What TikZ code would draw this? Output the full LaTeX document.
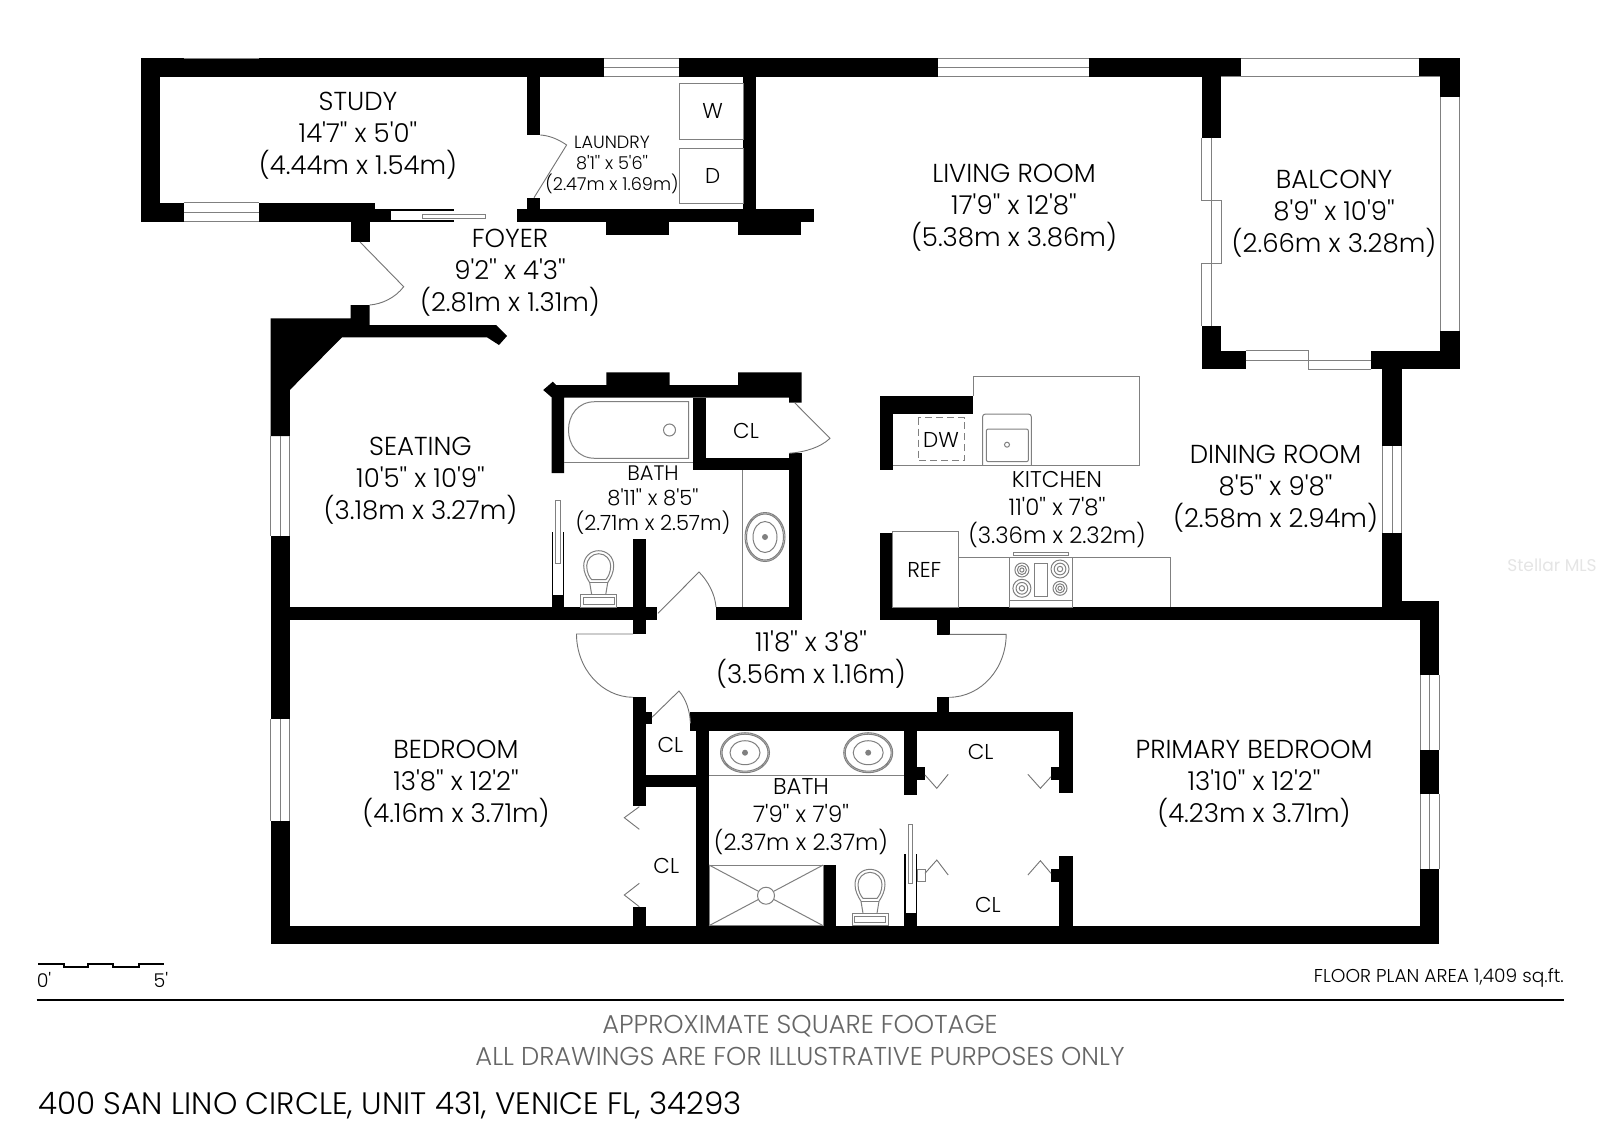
\documentclass[tikz,border=0pt]{standalone}
\usepackage{fontspec}
\newfontfamily\planfont{Poppins Light}
\newfontfamily\markfont{Poppins}
\usepackage{tikz}

\tikzset{
    wall/.style={fill=black},
    fixture/.style={draw=black!50, line width=1pt, fill=white},
    thinline/.style={draw=black!50, line width=1pt},
    doorline/.style={draw=black!55, line width=0.9pt},
    bigroom/.style={align=center, yshift=-3pt, font=\planfont\fontsize{26}{32}\selectfont},
    midroom/.style={align=center, yshift=-2pt, font=\planfont\fontsize{22.8}{28}\selectfont},
    smallroom/.style={align=center, yshift=-2pt, font=\planfont\fontsize{17.7}{21}\selectfont},
    tag/.style={font=\planfont\fontsize{21.5}{24}\selectfont},
}

\begin{document}
\begin{tikzpicture}[x=1pt,y=-1pt]
    \useasboundingbox (0,0) rectangle (1600,1130);
    \fill[white] (0,0) rectangle (1600,1130);

    % outer top wall and study
    \fill[wall] (141,58.3) rectangle (604,76.7);
    \fill[wall] (679,58.3) rectangle (938,76.7);
    \fill[wall] (1088.8,58.3) rectangle (1240.6,76.7);
    \fill[wall] (141,58.3) rectangle (160.4,221.7);
    \fill[wall] (141,202.7) rectangle (183.6,221.7);
    \fill[wall] (259,202.7) rectangle (375,221.7);
    \fill[wall] (375,209.3) rectangle (391,222);
    \fill[wall] (350.5,215) rectangle (369.7,242);
    \fill[wall] (527.3,76.7) rectangle (540.3,135);
    \fill[wall] (527.3,197.7) rectangle (540.3,212);

    % laundry walls
    \fill[wall] (516.6,209.3) rectangle (813.9,222.3);
    \fill[wall] (606.3,222) rectangle (669.3,235);
    \fill[wall] (738,222) rectangle (801,235);
    \fill[wall] (743.4,76.7) rectangle (755.9,210);

    % foyer and seating walls
    \fill[wall] (270.5,318.3) -- (350.5,318.3) -- (350.5,305) -- (369.7,305) -- (369.7,325)
        -- (496,325) -- (507,336) -- (499,345) -- (487,337.3) -- (342,337.3)
        -- (289.8,390) -- (289.8,436) -- (270.5,436) -- cycle;
    \fill[wall] (270.5,536) rectangle (289.8,719);
    \fill[wall] (270.5,821) rectangle (289.8,944.3);
    \fill[wall] (290,607) rectangle (657,620);
    \fill[wall] (633,539.3) rectangle (646,634);

    % inner bath walls
    \fill[wall] (552.8,381.7) -- (543.2,390) -- (551.6,397.3) -- (551.6,473) -- (564.2,473)
        -- (564.2,397.7) -- (789,397.7) -- (789,402.7) -- (801.5,402.7) -- (801.5,372.3)
        -- (738,372.3) -- (738,385) -- (669.5,385) -- (669.5,372.3) -- (606.3,372.3)
        -- (606.3,385) -- (556,385) -- cycle;
    \fill[wall] (551.6,595) rectangle (564.2,607);
    \fill[wall] (551.6,532) rectangle (553.2,595);
    \fill[wall] (562.6,532) rectangle (564.2,595);
    \fill[wall] (692.5,397.7) rectangle (705.8,470);
    \fill[wall] (692.5,458.3) rectangle (789,470);
    \fill[wall] (789,453) rectangle (801.5,620);
    \fill[wall] (716.2,607) rectangle (801.5,620);

    % kitchen and dining walls
    \fill[wall] (880,395.7) rectangle (973,414);
    \fill[wall] (880,395.7) rectangle (892.5,470);
    \fill[wall] (880,533.3) rectangle (892.5,620);
    \fill[wall] (880,607) rectangle (1420,620);
    \fill[wall] (936.5,620) rectangle (949.5,635);
    \fill[wall] (1382.4,369) rectangle (1401.5,446);
    \fill[wall] (1382.4,532.7) rectangle (1401.5,607);
    \fill[wall] (1382.4,600.7) rectangle (1439,620);

    % balcony corners
    \fill[wall] (1201.8,76) rectangle (1221,137.7);
    \fill[wall] (1419.4,58.3) rectangle (1459.6,76.7);
    \fill[wall] (1440,76.7) rectangle (1459.6,96.7);
    \fill[wall] (1201.8,326) rectangle (1221,369.3);
    \fill[wall] (1201.8,350.7) rectangle (1245.5,369.3);
    \fill[wall] (1440,330.7) rectangle (1459.6,369.3);
    \fill[wall] (1371.2,350.7) rectangle (1459.6,369.3);

    % primary bedroom and bottom walls
    \fill[wall] (1420,607) rectangle (1439,675);
    \fill[wall] (1420,750) rectangle (1439,794);
    \fill[wall] (1420,869) rectangle (1439,944.3);
    \fill[wall] (270.5,925.7) rectangle (1439,944.3);
    \fill[wall] (936.8,697.3) rectangle (949.3,712);
    \fill[wall] (690.4,711.7) rectangle (1072.5,731);
    \fill[wall] (1058.9,711.7) rectangle (1072.5,793.3);
    \fill[wall] (1051,767.3) rectangle (1059,780);
    \fill[wall] (1058.9,856) rectangle (1072.5,926);
    \fill[wall] (1051,869.3) rectangle (1059,881.7);

    % closets and second bath walls
    \fill[wall] (633.2,697.3) rectangle (646.4,806);
    \fill[wall] (646,711.7) rectangle (652,724);
    \fill[wall] (646,775) rectangle (697,787.3);
    \fill[wall] (633.2,906.7) rectangle (646.4,926);
    \fill[wall] (696.4,726) rectangle (709,926);
    \fill[wall] (823.2,865) rectangle (836,926);
    \fill[wall] (903.9,730) rectangle (917.1,795);
    \fill[wall] (917,767.3) rectangle (925,780);
    \fill[wall] (903.9,912.7) rectangle (917.1,926);
    \fill[wall] (903.9,854) rectangle (905.5,913);
    \fill[wall] (915.5,854) rectangle (917.1,913);

    % windows
    \foreach \xa/\xb in {183.6/259, 604/679, 938/1088.8} {
        \draw[thinline] (\xa,58.3) -- (\xb,58.3);
    }
    \draw[thinline] (604,67.7) -- (679,67.7) (604,76.7) -- (679,76.7);
    \draw[thinline] (938,67.7) -- (1088.8,67.7) (938,76.7) -- (1088.8,76.7);
    \draw[thinline] (183.6,202.7) -- (259,202.7) (183.6,212) -- (259,212) (183.6,221.7) -- (259,221.7);
    \draw[thinline] (270.5,436) -- (270.5,536) (280,436) -- (280,536) (289.8,436) -- (289.8,536);
    \draw[thinline] (270.5,719) -- (270.5,821) (280,719) -- (280,821) (289.8,719) -- (289.8,821);
    \draw[thinline] (1382.4,446) -- (1382.4,532.7) (1392,446) -- (1392,532.7) (1401.5,446) -- (1401.5,532.7);
    \foreach \ya/\yb in {675/750, 794/869} {
        \draw[thinline] (1420,\ya) -- (1420,\yb) (1429.5,\ya) -- (1429.5,\yb) (1439,\ya) -- (1439,\yb);
    }
    % balcony openings
    \draw[thinline] (1240.6,58.3) -- (1419.4,58.3) (1221,76.7) -- (1440,76.7);
    \draw[thinline] (1440,96.7) -- (1440,330.7) (1459.6,96.7) -- (1459.6,330.7);
    \draw[thinline] (1211,137.7) -- (1211,326);
    \draw[thinline] (1201.8,137.7) -- (1201.8,200.7) -- (1221,200.7) -- (1221,263.3) -- (1201.8,263.3) -- (1201.8,326);
    \draw[thinline] (1245.5,350.7) -- (1308,350.7) -- (1308,369.3) -- (1371.2,369.3);
    \draw[thinline] (1245.5,360) -- (1371.2,360);

    % sliding doors
    \fill[wall] (391,209.3) rectangle (453.7,211);
    \fill[wall] (391,220.3) rectangle (453.7,222);
    \draw[fixture] (422.4,214) rectangle (485,218);
    \draw[fixture] (555.4,500) rectangle (560.4,563);
    \draw[fixture] (908.2,824) rectangle (912.9,883.3);

    % swing doors
    \draw[doorline] (360,242) -- (403.7,286.7) .. controls (395,298) and (382,304) .. (369.7,305);
    \draw[doorline] (534,197.7) -- (566.6,145) .. controls (558,139) and (549,135.5) .. (540.3,135);
    \draw[doorline] (794.6,402.7) -- (830,438.3) .. controls (821,447) and (806,452) .. (789,453.3);
    \draw[doorline] (658,613.3) -- (699,572) .. controls (708,581) and (715,594) .. (716,607);
    \draw[doorline] (652,717.3) -- (679,691) .. controls (686,699) and (690,711) .. (690.4,723.3);
    \draw[doorline] (633,634) -- (576.5,634) .. controls (576.5,669) and (602,697) .. (633,697.3);
    \draw[doorline] (949.5,634.3) -- (1006.2,634.3) .. controls (1006,669) and (981,697) .. (949.3,697.3);

    % closet door leaves
    \draw[doorline] (639.3,806.7) -- (624.3,817.7) -- (639.3,829.3);
    \draw[doorline] (639.3,883.3) -- (624.3,895) -- (639.3,906.7);
    \draw[doorline] (925,775) -- (936.8,788.3) -- (948.2,774.3);
    \draw[doorline] (1027.9,774.3) -- (1040.4,788.3) -- (1051,776.7);
    \draw[doorline] (925,873.3) -- (936.8,860) -- (948.2,875);
    \draw[doorline] (1027.9,875) -- (1040.4,860.7) -- (1051,873.3);
    \draw[thinline] (917.1,869.3) rectangle (925,881.7);

    % laundry fixtures
    \draw[thinline] (679,83.3) rectangle (743.4,139);
    \draw[thinline] (679,148.3) rectangle (743.4,203.3);

    % first bath fixtures
    \draw[thinline] (564.2,462.3) -- (692.5,462.3);
    \draw[thinline] (688.6,401.7) -- (595,401.7) .. controls (578,401.7) and (568.5,415) .. (568.5,430)
        .. controls (568.5,445) and (578,458.3) .. (595,458.3) -- (688.6,458.3) -- cycle;
    \draw[thinline] (669.5,430) circle (6);
    \draw[thinline] (742,470) -- (742,607);
    \draw[thinline] (765,537) ellipse (20 and 24.5) (765,537) ellipse (18.5 and 23) (765,537) ellipse (12 and 15.5);
    \fill[black!50] (765,537) circle (3);

    % second bath fixtures
    \draw[thinline] (709,775) -- (903.9,775);
    \foreach \cx in {745, 868.2} {
        \draw[thinline] (\cx,752.7) ellipse (24.5 and 20) (\cx,752.7) ellipse (23 and 18.5) (\cx,752.7) ellipse (15 and 12);
        \fill[black!50] (\cx,752.7) circle (3);
    }
    \draw[thinline] (709,865) rectangle (823.2,925.7);
    \draw[thinline] (709,865) -- (823.2,925.7) (709,925.7) -- (823.2,865);
    \draw[fixture] (766,895.7) circle (8.5);

    % toilets
    \foreach \cx/\ty in {598.7/550.7, 870/869.3} {
        \begin{scope}[shift={(\cx,\ty)}]
            \draw[thinline] (-7,44) -- (-9,32) .. controls (-12,27) and (-15,22) .. (-15,15)
                .. controls (-15,6) and (-8,0) .. (0,0) .. controls (8,0) and (15,6) .. (15,15)
                .. controls (15,22) and (12,27) .. (9,32) -- (7,44);
            \draw[thinline] (-9,32) -- (9,32);
            \draw[thinline] (0,3) .. controls (7,3) and (12,9) .. (12,15) .. controls (12,22) and (9,27) .. (7,29)
                -- (-7,29) .. controls (-9,27) and (-12,22) .. (-12,15) .. controls (-12,9) and (-7,3) .. (0,3);
            \draw[thinline] (-18,44) rectangle (18,56.3);
            \draw[thinline] (-15.5,47) rectangle (15.5,53.5);
        \end{scope}
    }

    % kitchen fixtures
    \draw[thinline] (973,395.7) -- (973,376.7) -- (1139.4,376.7) -- (1139.4,465) -- (892.5,465);
    \draw[thinline, dash pattern=on 7pt off 4pt] (918.2,417.7) rectangle (964.5,460.7);
    \draw[thinline, rounded corners=3pt] (982.5,465) -- (982.5,414) -- (1031.4,414) -- (1031.4,465);
    \draw[thinline, rounded corners=2pt] (986.3,429) rectangle (1028.4,461.7);
    \draw[thinline] (1007,444.7) circle (2.5);
    \draw[thinline] (892.5,531.7) rectangle (958.7,607);
    \draw[thinline] (958.7,557) -- (1170.4,557) -- (1170.4,607);
    \draw[thinline] (1009.3,557) rectangle (1072.8,607);
    \draw[thinline] (1009.3,600.7) -- (1072.8,600.7);
    \draw[thinline] (1013.8,552.3) rectangle (1068.6,555);
    \draw[thinline] (1034.9,563.3) rectangle (1047.5,596.7);
    \foreach \bx/\by/\br in {1021.9/570/7, 1060/569/9, 1021.9/588.3/9, 1060/588.3/7} {
        \draw[thinline] (\bx,\by) circle (\br) (\bx,\by) circle (\br*0.65) (\bx,\by) circle (\br*0.3);
    }

    % room labels
    \node[bigroom] (study) at (358,133) {STUDY\\14'7'' x 5'0''\\(4.44m x 1.54m)};
    \node[bigroom] (foyer) at (510,269.5) {FOYER\\9'2'' x 4'3''\\(2.81m x 1.31m)};
    \node[bigroom] (living) at (1014,205) {LIVING ROOM\\17'9'' x 12'8''\\(5.38m x 3.86m)};
    \node[bigroom] (balcony) at (1334,211) {BALCONY\\8'9'' x 10'9''\\(2.66m x 3.28m)};
    \node[bigroom] (seating) at (420.5,478) {SEATING\\10'5'' x 10'9''\\(3.18m x 3.27m)};
    \node[bigroom] (dining) at (1275.5,486) {DINING ROOM\\8'5'' x 9'8''\\(2.58m x 2.94m)};
    \node[bigroom] (hall) at (811,657) {11'8'' x 3'8''\\(3.56m x 1.16m)};
    \node[bigroom] (bedroom) at (456,780.6) {BEDROOM\\13'8'' x 12'2''\\(4.16m x 3.71m)};
    \node[bigroom] (primary) at (1254,780.6) {PRIMARY BEDROOM\\13'10'' x 12'2''\\(4.23m x 3.71m)};
    \node[midroom] (kitchen) at (1057,508) {KITCHEN\\11'0'' x 7'8''\\(3.36m x 2.32m)};
    \node[midroom] (bathb) at (801,815) {BATH\\7'9'' x 7'9''\\(2.37m x 2.37m)};
    \node[midroom, font=\planfont\fontsize{21}{25}\selectfont] (batha) at (653,498) {BATH\\8'11'' x 8'5''\\(2.71m x 2.57m)};
    \node[smallroom] (laundry) at (612,163) {LAUNDRY\\8'1'' x 5'6''\\(2.47m x 1.69m)};

    % small tags
    \node[tag] (washer) at (712.6,111) {W};
    \node[tag] (dryer) at (712.6,175.7) {D};
    \node[tag] (dw) at (941,440) {DW};
    \node[tag] (ref) at (924.3,570) {REF};
    \node[tag] (cla) at (746,430.6) {CL};
    \node[tag] (clb) at (670.4,745) {CL};
    \node[tag] (clc) at (666.3,866) {CL};
    \node[tag] (cld) at (980.6,752) {CL};
    \node[tag] (cle) at (987.8,905) {CL};

    % scale bar
    \draw[line width=2pt] (38.3,964) -- (64,964) -- (64,967.3) -- (88,967.3) -- (88,964) -- (113,964)
        -- (113,967.3) -- (139,967.3) -- (139,964) -- (164.3,964);
    \node[font=\planfont\fontsize{19}{20}\selectfont] (zero) at (44,980) {0'};
    \node[font=\planfont\fontsize{19}{20}\selectfont] (five) at (161,980) {5'};

    % footer
    \draw[line width=2pt] (36.7,1000) -- (1563.8,1000);
    \node[anchor=east, inner sep=0pt, font=\planfont\fontsize{18.6}{22}\selectfont] (area) at (1564,978) {FLOOR PLAN AREA 1,409 sq.ft.};
    \node[black!60, font=\planfont\fontsize{25.8}{30}\selectfont] (approx) at (800,1026) {APPROXIMATE SQUARE FOOTAGE};
    \node[black!60, font=\planfont\fontsize{25.8}{30}\selectfont] (note) at (800,1056.5) {ALL DRAWINGS ARE FOR ILLUSTRATIVE PURPOSES ONLY};
    \node[anchor=west, inner sep=0pt, font=\planfont\fontsize{31}{36}\selectfont] (address) at (38,1105) {400 SAN LINO CIRCLE, UNIT 431, VENICE FL, 34293};

    % listing watermark
    \node[black!10, inner sep=0pt, font=\markfont\fontsize{17}{20}\selectfont] (watermark) at (1552,565) {Stellar MLS};
\end{tikzpicture}
\end{document}
